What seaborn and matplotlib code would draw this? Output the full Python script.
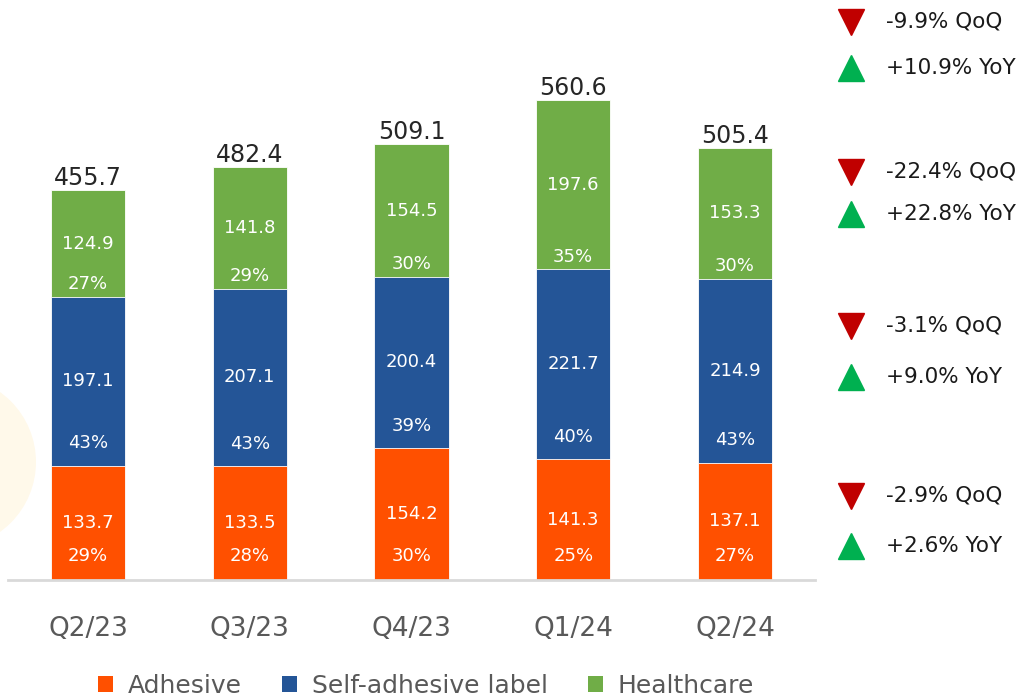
import matplotlib
matplotlib.use("Agg")
import matplotlib.pyplot as plt
import seaborn as sns
import pandas as pd
from matplotlib.patches import Patch, Circle
from matplotlib.lines import Line2D

quarters = ["Q2/23", "Q3/23", "Q4/23", "Q1/24", "Q2/24"]
adhesive = [133.7, 133.5, 154.2, 141.3, 137.1]
self_adhesive = [197.1, 207.1, 200.4, 221.7, 214.9]
healthcare = [124.9, 141.8, 154.5, 197.6, 153.3]
totals = [455.7, 482.4, 509.1, 560.6, 505.4]
pct_adhesive = ["29%", "28%", "30%", "25%", "27%"]
pct_self = ["43%", "43%", "39%", "40%", "43%"]
pct_health = ["27%", "29%", "30%", "35%", "30%"]
series_names = ["Adhesive", "Self-adhesive label", "Healthcare"]
qoq_labels = ["-9.9% QoQ", "-22.4% QoQ", "-3.1% QoQ", "-2.9% QoQ"]
yoy_labels = ["+10.9% YoY", "+22.8% YoY", "+9.0% YoY", "+2.6% YoY"]

C_OR = "#FF5000"
C_BL = "#245597"
C_GR = "#70AD47"

sns.set_theme(style="white")
plt.rcParams["font.family"] = ["DejaVu Sans"]

df = pd.DataFrame({
    "quarter": quarters,
    "adh": adhesive,
    "self": self_adhesive,
    "health": healthcare,
})
df["cum2"] = df["adh"] + df["self"]
df["cum3"] = df["cum2"] + df["health"]

fig = plt.figure(figsize=(10.24, 7.0), dpi=100)
fig.patches.append(Circle((-0.5, 2.38), 0.86, transform=fig.dpi_scale_trans,
                          facecolor="#FFF9EA", edgecolor="none", zorder=0))
ax = fig.add_axes([8 / 1024, 1 - 580 / 700, 807 / 1024, 580 / 700])
ax.set_facecolor("none")

W = 0.46
sns.barplot(data=df, x="quarter", y="cum3", order=quarters, color=C_GR,
            width=W, saturation=1, edgecolor="#ffffff", linewidth=0.6, ax=ax)
sns.barplot(data=df, x="quarter", y="cum2", order=quarters, color=C_BL,
            width=W, saturation=1, edgecolor="#ffffff", linewidth=0.6, ax=ax)
sns.barplot(data=df, x="quarter", y="adh", order=quarters, color=C_OR,
            width=W, saturation=1, edgecolor="#ffffff", linewidth=0.6, ax=ax)

ax.set_xlim(-0.495, 4.495)
ax.set_ylim(0, 678)
ax.set_xlabel("")
ax.set_ylabel("")
ax.set_yticks([])
for s in ["top", "right", "left"]:
    ax.spines[s].set_visible(False)
ax.spines["bottom"].set_color("#D9D9D9")
ax.spines["bottom"].set_linewidth(2)
ax.tick_params(axis="x", length=0, pad=26, labelsize=19, labelcolor="#595959")

lab = dict(color="white", fontsize=13, ha="center", va="center")
for i in range(len(quarters)):
    a, s, h = adhesive[i], self_adhesive[i], healthcare[i]
    ax.text(i, a / 2, f"{a:.1f}", **lab)
    ax.text(i, 28, pct_adhesive[i], **lab)
    ax.text(i, a + s / 2, f"{s:.1f}", **lab)
    ax.text(i, a + 26, pct_self[i], **lab)
    ax.text(i, a + s + h / 2, f"{h:.1f}", **lab)
    ax.text(i, a + s + 15, pct_health[i], **lab)
    ax.annotate(f"{totals[i]:.1f}", (i, a + s + h), xytext=(0, 0),
                textcoords="offset points", ha="center", va="bottom",
                fontsize=17, color="#262626")

# right-side change annotations
qoq_y = [22, 172, 326, 496]
yoy_y = [68, 214, 377, 546]
for qy, yy, qt, yt in zip(qoq_y, yoy_y, qoq_labels, yoy_labels):
    fig.add_artist(Line2D([851 / 1024], [1 - qy / 700], marker="v", ms=19,
                          color="#C00000", transform=fig.transFigure, linestyle="none"))
    fig.add_artist(Line2D([851 / 1024], [1 - yy / 700], marker="^", ms=19,
                          color="#00B050", transform=fig.transFigure, linestyle="none"))
    fig.text(886 / 1024, 1 - qy / 700, qt, fontsize=15.5, color="#1a1a1a",
             ha="left", va="center")
    fig.text(886 / 1024, 1 - yy / 700, yt, fontsize=15.5, color="#1a1a1a",
             ha="left", va="center")

handles = [Patch(facecolor=c, edgecolor="none") for c in [C_OR, C_BL, C_GR]]
fig.legend(handles, series_names, loc="center", bbox_to_anchor=(426 / 1024, 1 - 686 / 700),
           ncol=3, frameon=False, handlelength=0.6, handleheight=0.6,
           handletextpad=0.6, columnspacing=1.6,
           prop={"family": ["DejaVu Sans"], "size": 18},
           labelcolor="#595959")

fig.savefig("out.png", dpi=100)
